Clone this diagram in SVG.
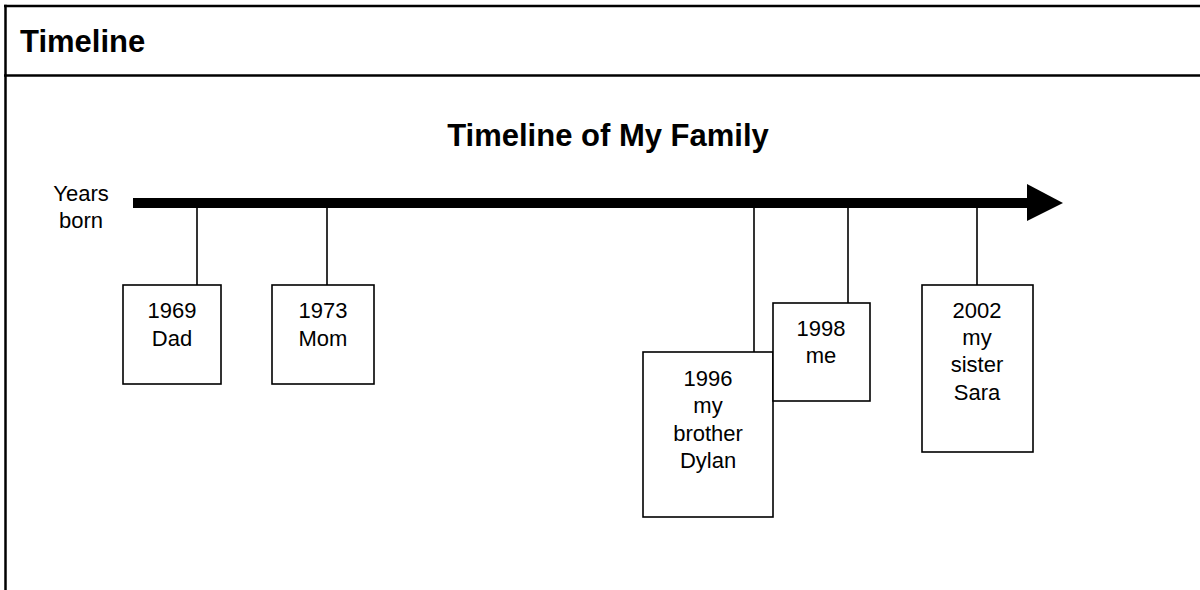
<svg xmlns="http://www.w3.org/2000/svg" width="1200" height="590" viewBox="0 0 1200 590">
<style>
.frame{stroke:#000;stroke-width:2.5;fill:none}
.box{fill:#fff;stroke:#000;stroke-width:1.6}
.tick{stroke:#000;stroke-width:1.6}
.t{font-family:"Liberation Sans",Arial,sans-serif;font-size:22px;fill:#000;text-anchor:middle}
.h{font-family:"Liberation Sans",Arial,sans-serif;font-size:31px;font-weight:bold;fill:#000}
</style>
<rect width="1200" height="590" fill="#fff"/>
<g id="frame">
<line class="frame" x1="4" y1="6" x2="1200" y2="6"/>
<line class="frame" x1="4" y1="75.5" x2="1200" y2="75.5"/>
<line class="frame" x1="5.5" y1="4.75" x2="5.5" y2="590"/>
<text class="h" x="20" y="52">Timeline</text>
</g>
<text id="title" class="h" x="608" y="146" text-anchor="middle">Timeline of My Family</text>
<g id="axis-label"><text class="t"><tspan x="81" y="201">Years</tspan><tspan x="81" y="228">born</tspan></text></g>
<g id="connectors">
<rect x="133" y="198" width="896" height="10" fill="#000"/>
<polygon points="1027,184 1063,203 1027,221" fill="#000"/>
<line class="tick" x1="197" y1="205" x2="197" y2="285"/>
<line class="tick" x1="327" y1="205" x2="327" y2="285"/>
<line class="tick" x1="754" y1="205" x2="754" y2="352"/>
<line class="tick" x1="848" y1="205" x2="848" y2="303"/>
<line class="tick" x1="977" y1="205" x2="977" y2="285"/>
</g>
<g id="dad"><rect class="box" x="123" y="285" width="98" height="99"/><text class="t"><tspan x="172" y="318">1969</tspan><tspan x="172" y="346">Dad</tspan></text></g>
<g id="mom"><rect class="box" x="272" y="285" width="102" height="99"/><text class="t"><tspan x="323" y="318">1973</tspan><tspan x="323" y="346">Mom</tspan></text></g>
<g id="dylan"><rect class="box" x="643" y="352" width="130" height="165"/><text class="t"><tspan x="708" y="386">1996</tspan><tspan x="708" y="413">my</tspan><tspan x="708" y="441">brother</tspan><tspan x="708" y="468">Dylan</tspan></text></g>
<g id="me"><rect class="box" x="773" y="303" width="97" height="98"/><text class="t"><tspan x="821" y="336">1998</tspan><tspan x="821" y="363">me</tspan></text></g>
<g id="sara"><rect class="box" x="922" y="285" width="111" height="167"/><text class="t"><tspan x="977" y="318">2002</tspan><tspan x="977" y="345">my</tspan><tspan x="977" y="372">sister</tspan><tspan x="977" y="400">Sara</tspan></text></g>
</svg>
